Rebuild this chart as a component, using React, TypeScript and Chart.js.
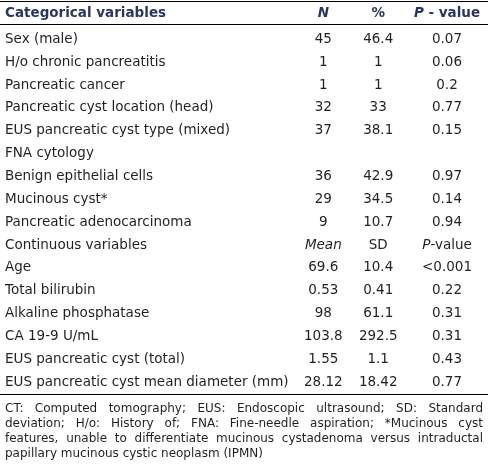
import React, { useEffect, useRef } from "react";
import { Chart, registerables } from "chart.js";

Chart.register(...registerables);

// ---- data ----
const headerLabels = ["Categorical variables", "N", "%", "P - value"];
const rowLabels = [
  "Sex (male)",
  "H/o chronic pancreatitis",
  "Pancreatic cancer",
  "Pancreatic cyst location (head)",
  "EUS pancreatic cyst type (mixed)",
  "FNA cytology",
  "Benign epithelial cells",
  "Mucinous cyst*",
  "Pancreatic adenocarcinoma",
  "Continuous variables",
  "Age",
  "Total bilirubin",
  "Alkaline phosphatase",
  "CA 19-9 U/mL",
  "EUS pancreatic cyst (total)",
  "EUS pancreatic cyst mean diameter (mm)",
];
const colN = ["45", "1", "1", "32", "37", "", "36", "29", "9", "Mean", "69.6", "0.53", "98", "103.8", "1.55", "28.12"];
const colPct = ["46.4", "1", "1", "33", "38.1", "", "42.9", "34.5", "10.7", "SD", "10.4", "0.41", "61.1", "292.5", "1.1", "18.42"];
const colP = ["0.07", "0.06", "0.2", "0.77", "0.15", "", "0.97", "0.14", "0.94", "P-value", "<0.001", "0.22", "0.31", "0.31", "0.43", "0.77"];
const footnoteLines = [
  "CT: Computed tomography; EUS: Endoscopic ultrasound; SD: Standard",
  "deviation; H/o: History of; FNA: Fine-needle aspiration; *Mucinous cyst",
  "features, unable to differentiate mucinous cystadenoma versus intraductal",
  "papillary mucinous cystic neoplasm (IPMN)",
];

// ---- style ----
const W = 488;
const H = 467;
const FONT = "'DejaVu Sans', sans-serif";
const BODY_SIZE = 13.5;
const FOOT_SIZE = 12;
const TEXT = "#231f20";
const NAVY = "#2b3563";
const colAnchors = [0.1, 0.4, 0.776];

type Seg = { t: string; italic: boolean };

function segmentsFor(text: string): Seg[] {
  if (text === "Mean") return [{ t: text, italic: true }];
  if (text === "P-value") return [{ t: "P", italic: true }, { t: "-value", italic: false }];
  if (text === "N") return [{ t: "N", italic: true }];
  if (text === "P - value") return [{ t: "P", italic: true }, { t: " - value", italic: false }];
  return [{ t: text, italic: false }];
}

function drawSegs(ctx: CanvasRenderingContext2D, segs: Seg[], cx: number, y: number, size: number, weight: string, color: string) {
  const fontFor = (it: boolean) => `${it ? "italic " : ""}${weight} ${size}px ${FONT}`;
  let total = 0;
  for (const s of segs) {
    ctx.font = fontFor(s.italic);
    total += ctx.measureText(s.t).width;
  }
  let x = cx - total / 2;
  ctx.fillStyle = color;
  ctx.textAlign = "left";
  ctx.textBaseline = "middle";
  for (const s of segs) {
    ctx.font = fontFor(s.italic);
    ctx.fillText(s.t, x, y);
    x += ctx.measureText(s.t).width;
  }
}

const tablePlugin = {
  id: "tableText",
  afterDatasetsDraw(chart: any) {
    const ctx: CanvasRenderingContext2D = chart.ctx;
    ctx.save();
    chart.data.datasets.forEach((ds: any, i: number) => {
      const meta = chart.getDatasetMeta(i);
      meta.data.forEach((el: any, j: number) => {
        const raw = ds.data[j];
        drawSegs(ctx, segmentsFor(raw.text), el.x, el.y, BODY_SIZE, "normal", TEXT);
      });
    });
    ctx.restore();
  },
  afterDraw(chart: any) {
    const ctx: CanvasRenderingContext2D = chart.ctx;
    const area = chart.chartArea;
    const xs = chart.scales.x;
    ctx.save();
    // rules
    ctx.fillStyle = "#000";
    ctx.fillRect(0, 1, W, 1);
    ctx.fillRect(0, 24, W, 1);
    ctx.fillRect(0, Math.round(area.bottom), W, 1);
    // header
    const hy = 13;
    ctx.font = `bold ${BODY_SIZE}px ${FONT}`;
    ctx.fillStyle = NAVY;
    ctx.textAlign = "left";
    ctx.textBaseline = "middle";
    ctx.fillText(headerLabels[0], 5, hy);
    for (let c = 1; c < headerLabels.length; c++) {
      drawSegs(ctx, segmentsFor(headerLabels[c]), xs.getPixelForValue(colAnchors[c - 1]), hy, BODY_SIZE, "bold", NAVY);
    }
    // footnote (justified)
    ctx.font = `${FOOT_SIZE}px ${FONT}`;
    ctx.fillStyle = TEXT;
    const left = 5;
    const right = W - 5;
    footnoteLines.forEach((line, li) => {
      const y = Math.round(area.bottom) + 15 + li * 15;
      const words = line.split(" ");
      if (li === footnoteLines.length - 1 || words.length < 2) {
        ctx.fillText(line, left, y);
        return;
      }
      const widths = words.map((w) => ctx.measureText(w).width);
      const sum = widths.reduce((a, b) => a + b, 0);
      const gap = (right - left - sum) / (words.length - 1);
      let x = left;
      words.forEach((w, k) => {
        ctx.fillText(w, x, y);
        x += widths[k] + gap;
      });
    });
    ctx.restore();
  },
};

export default function App() {
  const ref = useRef<HTMLCanvasElement | null>(null);
  useEffect(() => {
    if (!ref.current) return;
    const cols = [colN, colPct, colP];
    const datasets = cols.map((col, ci) => ({
      label: headerLabels[ci + 1],
      data: col
        .map((t, j) => ({ x: colAnchors[ci], y: rowLabels[j], text: t }))
        .filter((d) => d.text !== ""),
      pointRadius: 0,
      showLine: false,
    }));
    const chart = new Chart(ref.current, {
      type: "scatter",
      data: { datasets: datasets as any },
      plugins: [tablePlugin],
      options: {
        animation: false,
        responsive: false,
        devicePixelRatio: 1,
        events: [],
        layout: { padding: { left: 5, right: 0, top: 28, bottom: 73.5 } },
        plugins: { legend: { display: false }, tooltip: { enabled: false } },
        scales: {
          x: { type: "linear", min: 0, max: 1, display: false },
          y: {
            type: "category",
            labels: rowLabels,
            offset: true,
            grid: { display: false },
            border: { display: false },
            afterFit: (s: any) => {
              s.width = 300;
            },
            ticks: {
              autoSkip: false,
              crossAlign: "far",
              padding: 0,
              color: TEXT,
              font: { family: FONT, size: BODY_SIZE },
            },
          },
        },
      } as any,
    });
    return () => chart.destroy();
  }, []);
  return (
    <div style={{ position: "absolute", left: 0, top: 0, width: W, height: H, background: "#fff" }}>
      <canvas ref={ref} width={W} height={H} style={{ display: "block", width: W, height: H }} />
    </div>
  );
}
